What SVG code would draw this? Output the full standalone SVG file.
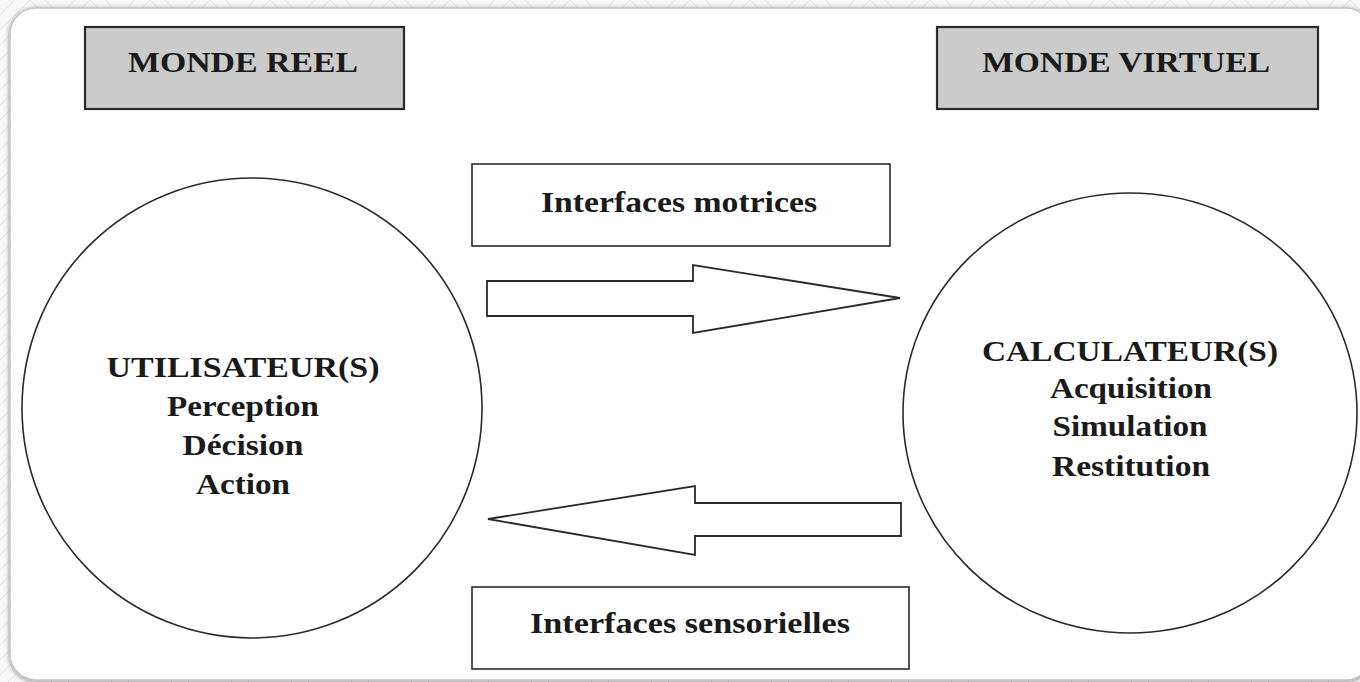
<svg xmlns="http://www.w3.org/2000/svg" width="1360" height="682" viewBox="0 0 1360 682">
  <defs>
    <style>
      .t { font-family: "Liberation Serif", "Times New Roman", serif; font-weight: bold; fill: #1a1a1a; text-anchor: middle; }
      .big { font-size: 30px; }
      .box { fill: #ffffff; stroke: #2a2a2a; stroke-width: 1.6; }
      .gbox { fill: #cbcbcb; stroke: #2a2a2a; stroke-width: 2.2; }
      .circ { fill: none; stroke: #2a2a2a; stroke-width: 1.6; }
      .arrow { fill: #ffffff; stroke: #2a2a2a; stroke-width: 1.8; stroke-linejoin: miter; }
    </style>
    <pattern id="bg" width="60" height="30" patternUnits="userSpaceOnUse">
      <rect width="60" height="30" fill="#f7f7f7"/>
      <path d="M0 30 L30 0 L60 30 M0 15 L15 0 M45 0 L60 15" fill="none" stroke="#e2e2e2" stroke-width="1"/>
    </pattern>
    <filter id="sh" x="-5%" y="-5%" width="110%" height="110%">
      <feDropShadow dx="0" dy="1" stdDeviation="2" flood-color="#000" flood-opacity="0.45"/>
    </filter>
  </defs>

  <rect width="1360" height="682" fill="url(#bg)"/>
  <rect x="10" y="8" width="1362" height="672" rx="26" ry="26" fill="#ffffff" stroke="#c4c4c4" stroke-width="1.5" filter="url(#sh)"/>

  <g id="monde-reel">
    <rect class="gbox" x="85" y="27" width="319" height="82"/>
    <text class="t big" x="243" y="72" textLength="230" lengthAdjust="spacingAndGlyphs">MONDE REEL</text>
  </g>

  <g id="monde-virtuel">
    <rect class="gbox" x="937" y="27" width="381" height="82"/>
    <text class="t big" x="1126" y="72" textLength="288" lengthAdjust="spacingAndGlyphs">MONDE VIRTUEL</text>
  </g>

  <g id="interfaces-motrices">
    <rect class="box" x="472" y="164" width="418" height="82"/>
    <text class="t big" x="679" y="212" textLength="276" lengthAdjust="spacingAndGlyphs">Interfaces motrices</text>
  </g>

  <g id="interfaces-sensorielles">
    <rect class="box" x="472" y="587" width="437" height="82"/>
    <text class="t big" x="690" y="633" textLength="320" lengthAdjust="spacingAndGlyphs">Interfaces sensorielles</text>
  </g>

  <g id="utilisateurs">
    <circle class="circ" cx="252" cy="408" r="230"/>
    <text class="t big" x="243" y="377" textLength="273" lengthAdjust="spacingAndGlyphs">UTILISATEUR(S)</text>
    <text class="t big" x="243" y="416" textLength="152" lengthAdjust="spacingAndGlyphs">Perception</text>
    <text class="t big" x="243" y="455" textLength="121" lengthAdjust="spacingAndGlyphs">Décision</text>
    <text class="t big" x="243" y="494" textLength="94" lengthAdjust="spacingAndGlyphs">Action</text>
  </g>

  <g id="calculateurs">
    <ellipse class="circ" cx="1130" cy="413" rx="227" ry="220"/>
    <text class="t big" x="1130" y="361" textLength="296" lengthAdjust="spacingAndGlyphs">CALCULATEUR(S)</text>
    <text class="t big" x="1131" y="398" textLength="162" lengthAdjust="spacingAndGlyphs">Acquisition</text>
    <text class="t big" x="1130" y="436" textLength="155" lengthAdjust="spacingAndGlyphs">Simulation</text>
    <text class="t big" x="1131" y="476" textLength="158" lengthAdjust="spacingAndGlyphs">Restitution</text>
  </g>

  <g id="connectors">
    <polygon class="arrow" points="487,281 693,281 693,265 900,298 693,333 693,316 487,316"/>
    <polygon class="arrow" points="901,503 695,503 695,486 488,519 695,555 695,536 901,536"/>
  </g>
</svg>
